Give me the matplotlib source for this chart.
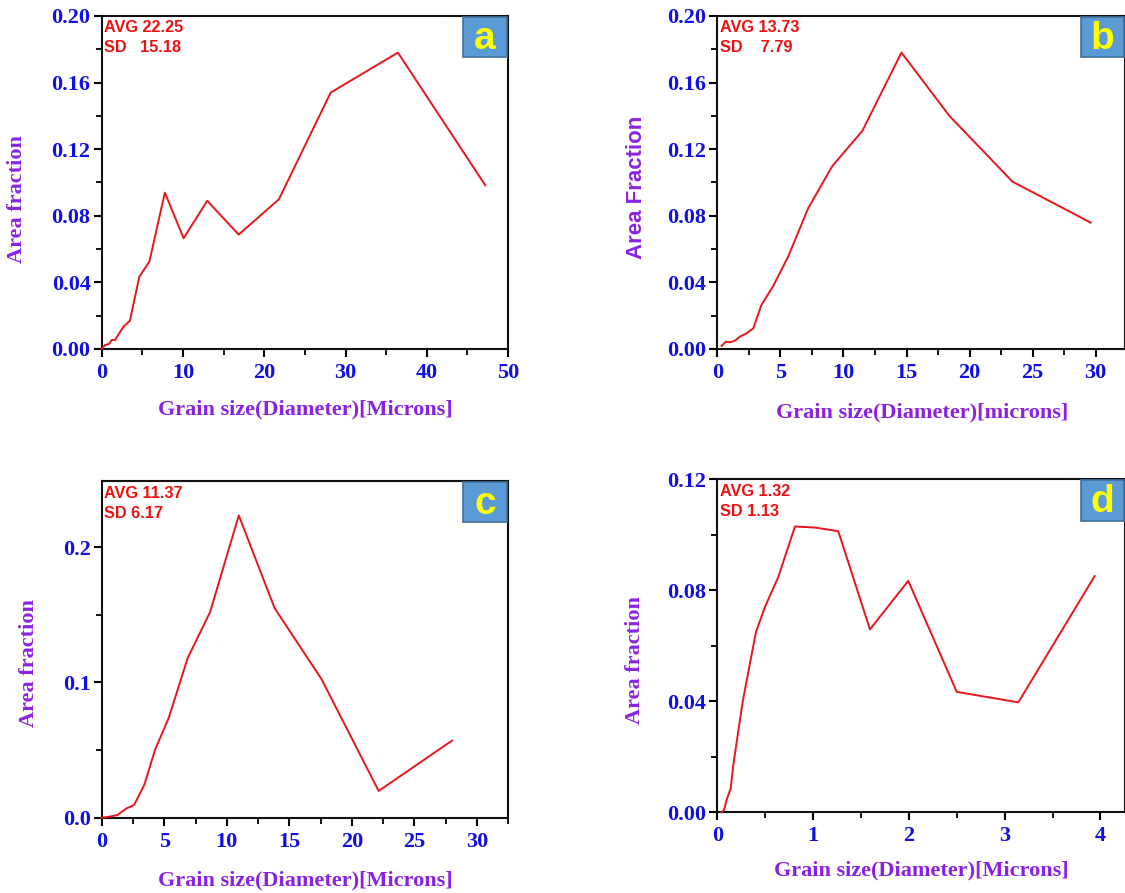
import numpy as np
import matplotlib
matplotlib.use('Agg')
import matplotlib.pyplot as plt
from matplotlib.patches import Rectangle
from matplotlib.ticker import MultipleLocator, FormatStrFormatter

# 数据
a_x = [0, 0.41, 0.9, 1.24, 1.65, 2.15, 2.7, 3.47, 4.63, 5.87, 7.77, 10.08, 12.98, 16.86, 21.8, 28.18, 36.45, 47.2]
a_y = [0, 0.0024, 0.003, 0.0054, 0.0054, 0.0094, 0.0134, 0.017, 0.0434, 0.0525, 0.0939, 0.0665, 0.089, 0.0687, 0.0899, 0.154, 0.178, 0.0983]

b_x = [0.34, 0.69, 1.0, 1.4, 1.79, 2.32, 2.85, 3.5, 4.43, 5.62, 7.2, 9.13, 11.5, 14.6, 18.4, 23.4, 29.6]
b_y = [0.0018, 0.0044, 0.004, 0.005, 0.0074, 0.0094, 0.0124, 0.0264, 0.0378, 0.0555, 0.0845, 0.110, 0.131, 0.178, 0.140, 0.1005, 0.0759]

c_x = [0, 0.59, 1.26, 1.98, 2.59, 3.4, 4.28, 5.35, 6.87, 8.66, 10.96, 13.82, 17.57, 22.14, 28.0]
c_y = [0, 0.0007, 0.002, 0.0069, 0.0094, 0.0242, 0.0506, 0.0736, 0.118, 0.152, 0.2235, 0.155, 0.1025, 0.0198, 0.057]

d_x = [0.045, 0.07, 0.097, 0.14, 0.167, 0.2, 0.265, 0.334, 0.404, 0.498, 0.637, 0.811, 1.02, 1.263, 1.594, 1.994, 2.5, 3.143, 3.94]
d_y = [0, 0.0008, 0.0044, 0.0086, 0.017, 0.0248, 0.0398, 0.0524, 0.065, 0.074, 0.0848, 0.103, 0.1026, 0.1013, 0.0659, 0.0834, 0.0434, 0.0396, 0.0851]

stats = {'a': ('AVG 22.25', 'SD   15.18'),
         'b': ('AVG 13.73', 'SD    7.79'),
         'c': ('AVG 11.37', 'SD 6.17'),
         'd': ('AVG 1.32', 'SD 1.13')}

LINE_COLOR = '#e8161c'
TICK_COLOR = '#1010e6'
LABEL_COLOR = '#8a22e6'
SERIF = 'Liberation Serif'
SANS = 'Liberation Sans'

fig = plt.figure(figsize=(11.25, 8.93), dpi=100)

# 各子图配置: 位置, 数据, 坐标范围, 刻度
panels = [
    dict(key='a', rect=[0.0904, 0.6092, 0.3612, 0.3729], x=a_x, y=a_y,
         xlim=(0, 50), ylim=(0, 0.2), xmaj=10, xmin=5, ymaj=0.04, ymin=0.02, yfmt='%.2f',
         ylabel='Area fraction', ylab_font=SERIF, xlabel='Grain size(Diameter)[Microns]',
         ylab_pos=(-0.184, 0.45), xlab_pos=(0.5, -0.153), box_w=0.108, box_h=0.12),
    dict(key='b', rect=[0.6376, 0.6092, 0.3624, 0.3729], x=b_x, y=b_y,
         xlim=(0, 32.32), ylim=(0, 0.2), xmaj=5, xmin=2.5, ymaj=0.04, ymin=0.02, yfmt='%.2f',
         ylabel='Area Fraction', ylab_font=SANS, xlabel='Grain size(Diameter)[microns]',
         ylab_pos=(-0.172, 0.485), xlab_pos=(0.503, -0.162), box_w=0.105, box_h=0.12),
    dict(key='c', rect=[0.0904, 0.0843, 0.3614, 0.3771], x=c_x, y=c_y,
         xlim=(0, 32.5), ylim=(0, 0.249), xmaj=5, xmin=2.5, ymaj=0.1, ymin=0.05, yfmt='%.1f',
         ylabel='Area fraction', ylab_font=SERIF, xlabel='Grain size(Diameter)[Microns]',
         ylab_pos=(-0.154, 0.46), xlab_pos=(0.5, -0.158), box_w=0.108, box_h=0.119),
    dict(key='d', rect=[0.6376, 0.0904, 0.3624, 0.3729], x=d_x, y=d_y,
         xlim=(0, 4.257), ylim=(0, 0.12), xmaj=1, xmin=0.5, ymaj=0.04, ymin=0.02, yfmt='%.2f',
         ylabel='Area fraction', ylab_font=SERIF, xlabel='Grain size(Diameter)[Microns]',
         ylab_pos=(-0.177, 0.457), xlab_pos=(0.5, -0.146), box_w=0.105, box_h=0.123),
]

for p in panels:
    ax = fig.add_axes(p['rect'])
    ax.plot(p['x'], p['y'], color=LINE_COLOR, linewidth=1.4, clip_on=False, zorder=3)
    ax.set_xlim(*p['xlim'])
    ax.set_ylim(*p['ylim'])

    ax.xaxis.set_major_locator(MultipleLocator(p['xmaj']))
    ax.xaxis.set_minor_locator(MultipleLocator(p['xmin']))
    ax.yaxis.set_major_locator(MultipleLocator(p['ymaj']))
    ax.yaxis.set_minor_locator(MultipleLocator(p['ymin']))
    ax.yaxis.set_major_formatter(FormatStrFormatter(p['yfmt']))

    for sp in ax.spines.values():
        sp.set_linewidth(1.5)
        sp.set_color('#111111')
    ax.tick_params(which='major', direction='out', length=6, width=1.5)
    ax.tick_params(axis='x', which='major', pad=4)
    ax.tick_params(axis='y', which='major', pad=2)
    ax.tick_params(which='minor', direction='out', length=4, width=1.3)
    ax.tick_params(top=False, right=False, which='both')

    for lab in ax.get_xticklabels() + ax.get_yticklabels():
        lab.set_fontfamily(SERIF)
        lab.set_fontweight('bold')
        lab.set_fontsize(16)
        lab.set_color(TICK_COLOR)

    ax.set_xlabel(p['xlabel'], fontfamily=SERIF, fontweight='bold', fontsize=16, color=LABEL_COLOR)
    ax.set_ylabel(p['ylabel'], fontfamily=p['ylab_font'], fontweight='bold', fontsize=16, color=LABEL_COLOR)
    ax.xaxis.set_label_coords(*p['xlab_pos'])
    ax.yaxis.set_label_coords(*p['ylab_pos'])

    # AVG / SD 注释
    avg, sd = stats[p['key']]
    ax.text(0.006, 0.964, avg, transform=ax.transAxes, fontfamily=SANS, fontweight='bold',
            fontsize=11.7, color='#ee1111', va='center', ha='left')
    ax.text(0.006, 0.904, sd, transform=ax.transAxes, fontfamily=SANS, fontweight='bold',
            fontsize=11.7, color='#ee1111', va='center', ha='left')

    # 右上角字母标签框
    bx = 0.997 - p['box_w']
    by = 0.997 - p['box_h']
    ax.add_patch(Rectangle((bx, by), p['box_w'], p['box_h'], transform=ax.transAxes,
                           facecolor='#5b9bd5', edgecolor='#41719c', linewidth=1.2, zorder=5,
                           clip_on=False))
    ax.text(bx + p['box_w'] / 2, by + p['box_h'] / 2 - 0.005, p['key'], transform=ax.transAxes,
            fontfamily=SANS, fontweight='bold', fontsize=28, color='#ffff00',
            ha='center', va='center', zorder=6)

plt.savefig('out.png', dpi=100, facecolor='white')
plt.close()
